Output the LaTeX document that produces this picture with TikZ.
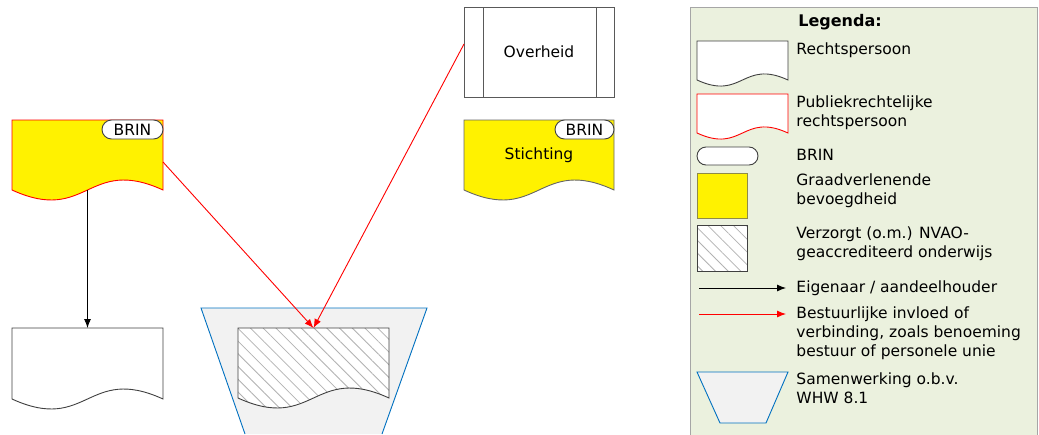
\documentclass[tikz,border=0pt]{standalone}
\usepackage{fontspec}
\setmainfont{DejaVu Sans}
\usepackage{tikz}
\usetikzlibrary{shapes.misc}
\usetikzlibrary{arrows.meta}
\usetikzlibrary{patterns.meta}
\usetikzlibrary{positioning}
\definecolor{legendgreen}{HTML}{EBF1DE}
\definecolor{coopblue}{HTML}{0070C0}
\definecolor{coopgray}{HTML}{F2F2F2}
\tikzset{docbox/.style={inner sep=0pt,outer sep=0pt,font=\fontsize{15.5}{19}\selectfont}}
\tikzset{brinpill/.style={draw=black!75,fill=white,rounded rectangle,inner sep=0pt,
                          outer sep=0pt,font=\fontsize{15.5}{19}\selectfont}}
\tikzset{legtext/.style={anchor=west,align=left,inner sep=0pt,
                         font=\fontsize{15.5}{19}\selectfont}}
\tikzset{hatched/.style={preaction={fill=white},
                         pattern={Lines[angle=-45,distance=9pt,line width=0.8pt]},
                         pattern color=black!30}}
\tikzset{owner/.style={-{Latex[length=9pt,width=7pt]},black}}
\tikzset{control/.style={-{Latex[length=9pt,width=7pt]},red}}
\newcommand{\docshape}[4]{%
  \draw[#1] (#2.south west) -- (#2.north west) -- (#2.north east) -- (#2.south east)
    .. controls +(-#3,-#4) and +(#3,#4) .. (#2.south west) -- cycle;}

\begin{document}
\begin{tikzpicture}[x=1pt,y=-1pt,line width=0.9pt]

    \useasboundingbox (0,0) rectangle (1039,434);
    \clip (0,0) rectangle (1039,434);

    % samenwerking
    \fill[coopgray] (201,308) -- (427,308) -- (382,434) -- (245,434) -- cycle;
    \draw[coopblue] (245,434) -- (201,308) -- (427,308) -- (382,434);

    \node[docbox,minimum width=151pt,minimum height=70pt] (brin1) at (87.5,155) {};
    \docshape{draw=red,fill=yellow}{brin1}{75.5}{34.6}
    \node[brinpill,minimum width=61pt,minimum height=19pt,anchor=east]
        (brin1pill) at ([yshift=-9.5pt]brin1.north east) {BRIN};

    \node[docbox,minimum width=151pt,minimum height=71pt] (rp) at (87.5,363.5) {};
    \docshape{draw=black!75,fill=white}{rp}{75.5}{34.6}

    \node[docbox,minimum width=151pt,minimum height=70pt] (onderwijs) at (313.5,363) {};
    \docshape{draw=black!75,hatched}{onderwijs}{75.5}{34.6}

    \node[docbox,draw=black!65,fill=white,minimum width=150pt,minimum height=90pt]
        (overheid) at (539,52) {Overheid};
    \draw[black!65] ([xshift=19pt]overheid.north west) -- ([xshift=19pt]overheid.south west);
    \draw[black!65] ([xshift=-18pt]overheid.north east) -- ([xshift=-18pt]overheid.south east);

    \node[docbox,minimum width=150pt,minimum height=70pt] (stichting) at (539,155) {};
    \docshape{draw=black!60,fill=yellow}{stichting}{75}{34.6}
    \node[docbox] (stichtinglabel) at (stichting) {Stichting};
    \node[brinpill,minimum width=59pt,minimum height=19pt,anchor=east]
        (stichtingpill) at ([yshift=-9.5pt]stichting.north east) {BRIN};

    \draw[owner] (brin1.south) -- (rp.north);
    \draw[control] ([yshift=-7pt]brin1.east) -- (onderwijs.north);
    \draw[control] ([yshift=8pt]overheid.west) -- (onderwijs.north);

    % legenda
    \draw[black!35,fill=legendgreen] (690,7) rectangle (1037,450);
    \node[docbox,font=\fontsize{16}{19}\selectfont\bfseries] (legenda) at (840,22) {Legenda:};

    \node[docbox,minimum width=91pt,minimum height=39pt] (legrp) at (742.5,60.5) {};
    \docshape{draw=black!75,fill=white}{legrp}{45.5}{21}
    \node[docbox,minimum width=91pt,minimum height=39pt] (legprp) at (742.5,113.5) {};
    \docshape{draw=red,fill=white}{legprp}{45.5}{21}
    \node[brinpill,minimum width=61pt,minimum height=18pt] (legbrin) at (727.5,156) {};
    \node[draw=yellow!50!black,fill=yellow,minimum width=50pt,minimum height=45pt,
          inner sep=0pt] (leggraad) at (722,195.5) {};
    \node[draw=black!75,hatched,minimum width=50pt,minimum height=46pt,
          inner sep=0pt] (leghatch) at (722,248) {};
    \coordinate (legownerA) at (699,288);
    \coordinate (legownerB) at (786,288);
    \draw[owner] (legownerA) -- (legownerB);
    \coordinate (legcontrolA) at (699,314);
    \coordinate (legcontrolB) at (786,314);
    \draw[control] (legcontrolA) -- (legcontrolB);
    \fill[coopgray] (697,372) -- (788,372) -- (766,423) -- (720,423) -- cycle;
    \draw[coopblue] (697,372) -- (788,372) -- (766,423) -- (720,423) -- cycle;

    \node[legtext] (t1) at (796,50) {Rechtspersoon};
    \node[legtext] (t2) at (796,112.5) {Publiekrechtelijke\\rechtspersoon};
    \node[legtext] (t3) at (796,155) {BRIN};
    \node[legtext] (t4) at (796,191) {Graadverlenende\\bevoegdheid};
    \node[legtext] (t5) at (796,244) {Verzorgt (o.m.) NVAO-\\geaccrediteerd onderwijs};
    \node[legtext] (t6) at (796,288) {Eigenaar / aandeelhouder};
    \node[legtext] (t7) at (796,333) {Bestuurlijke invloed of\\verbinding, zoals benoeming\\bestuur of personele unie};
    \node[legtext] (t8) at (796,388) {Samenwerking o.b.v.\\WHW 8.1};

\end{tikzpicture}
\end{document}
